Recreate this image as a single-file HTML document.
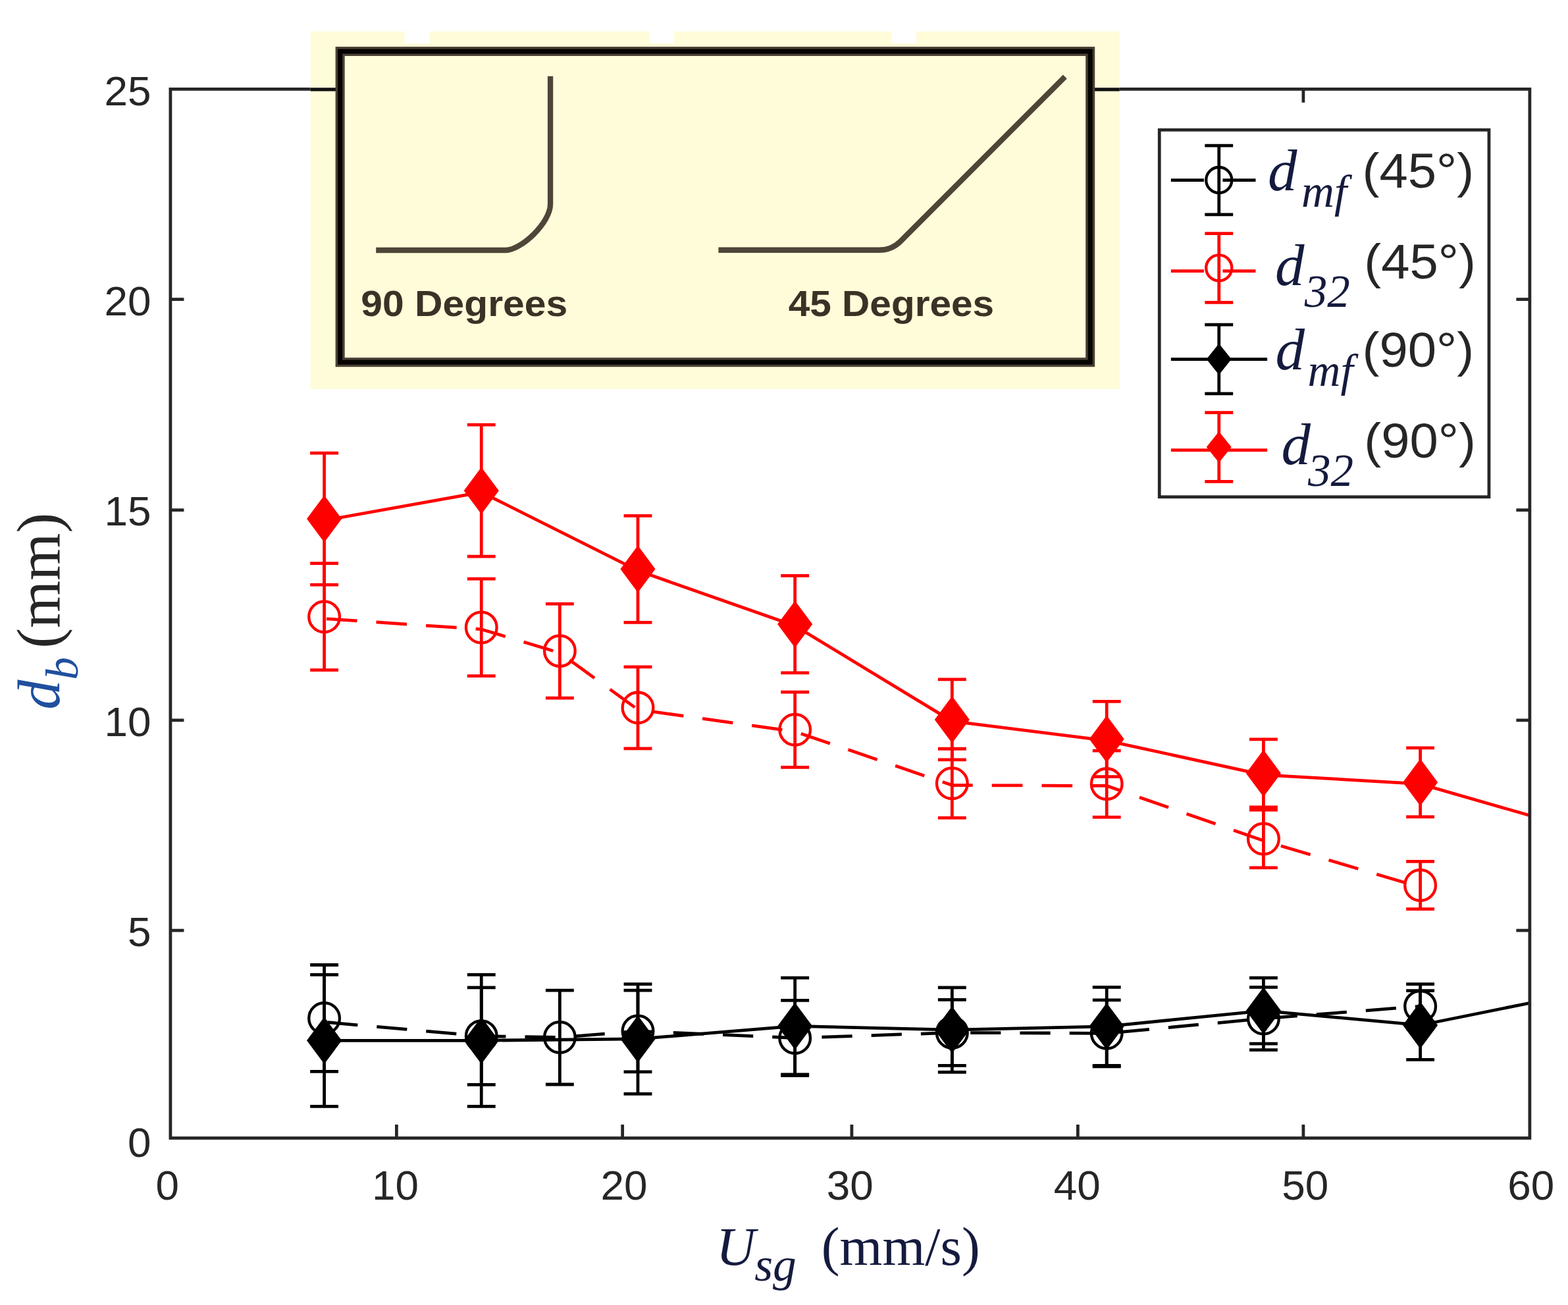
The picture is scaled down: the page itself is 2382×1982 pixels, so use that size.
<!DOCTYPE html>
<html><head><meta charset="utf-8"><title>Bubble diameter vs superficial gas velocity</title>
<style>html,body{margin:0;padding:0;background:#fff;overflow:hidden}svg{display:block}</style></head>
<body><svg width="2382" height="1982" viewBox="0 0 500 416">
<defs><clipPath id="clipax"><rect x="54.35" y="28.4" width="433.45" height="334.40000000000003"/></clipPath></defs>
<rect width="500" height="416" fill="#fff"/>
<rect x="54.35" y="28.4" width="433.45" height="334.40000000000003" fill="#fff" stroke="none"/><g clip-path="url(#clipax)"><path d="M103.4 325.8 L153.5 330.3 L178.5 330.7 L203.4 328.7 L253.5 330.9 L303.6 329.2 L352.9 329.4 L402.9 324.7 L452.9 320.8" stroke="#000000" stroke-width="1" fill="none" stroke-dasharray="9.7 6.1" stroke-dashoffset="-1.0"/><path d="M103.4 307.6V341.6M98.9 307.6H107.9M98.9 341.6H107.9" stroke="#000000" stroke-width="1" fill="none"/><path d="M153.5 314.8V345.8M149.0 314.8H158.0M149.0 345.8H158.0" stroke="#000000" stroke-width="1" fill="none"/><path d="M178.5 315.7V345.7M174.0 315.7H183.0M174.0 345.7H183.0" stroke="#000000" stroke-width="1" fill="none"/><path d="M203.4 315.7V341.7M198.9 315.7H207.9M198.9 341.7H207.9" stroke="#000000" stroke-width="1" fill="none"/><path d="M253.5 318.9V342.9M249.0 318.9H258.0M249.0 342.9H258.0" stroke="#000000" stroke-width="1" fill="none"/><path d="M303.6 318.7V339.7M299.1 318.7H308.1M299.1 339.7H308.1" stroke="#000000" stroke-width="1" fill="none"/><path d="M352.9 318.79999999999995V340.0M348.4 318.79999999999995H357.4M348.4 340.0H357.4" stroke="#000000" stroke-width="1" fill="none"/><path d="M402.9 314.7V334.7M398.4 314.7H407.4M398.4 334.7H407.4" stroke="#000000" stroke-width="1" fill="none"/><path d="M452.9 313.7V327.90000000000003M448.4 313.7H457.4M448.4 327.90000000000003H457.4" stroke="#000000" stroke-width="1" fill="none"/><circle cx="103.4" cy="324.6" r="4.9" fill="none" stroke="#000000" stroke-width="0.9"/><circle cx="153.5" cy="330.3" r="4.9" fill="none" stroke="#000000" stroke-width="0.9"/><circle cx="178.5" cy="330.7" r="4.9" fill="none" stroke="#000000" stroke-width="0.9"/><circle cx="203.4" cy="328.7" r="4.9" fill="none" stroke="#000000" stroke-width="0.9"/><circle cx="253.5" cy="330.9" r="4.9" fill="none" stroke="#000000" stroke-width="0.9"/><circle cx="303.6" cy="329.2" r="4.9" fill="none" stroke="#000000" stroke-width="0.9"/><circle cx="352.9" cy="329.4" r="4.9" fill="none" stroke="#000000" stroke-width="0.9"/><circle cx="402.9" cy="324.7" r="4.9" fill="none" stroke="#000000" stroke-width="0.9"/><circle cx="452.9" cy="320.8" r="4.9" fill="none" stroke="#000000" stroke-width="0.9"/><path d="M103.4 197.2 L153.5 200.6 L178.5 208.1 L203.4 226.2 L253.5 233.2 L303.6 250.29999999999998 L352.9 250.5 L402.9 268.0 L452.9 282.8" stroke="#ff0000" stroke-width="1" fill="none" stroke-dasharray="9.8 6.1" stroke-dashoffset="-0.7"/><path d="M103.4 179.6V213.6M98.9 179.6H107.9M98.9 213.6H107.9" stroke="#ff0000" stroke-width="1" fill="none"/><path d="M153.5 184.5V215.5M149.0 184.5H158.0M149.0 215.5H158.0" stroke="#ff0000" stroke-width="1" fill="none"/><path d="M178.5 192.5V222.5M174.0 192.5H183.0M174.0 222.5H183.0" stroke="#ff0000" stroke-width="1" fill="none"/><path d="M203.4 212.6V238.6M198.9 212.6H207.9M198.9 238.6H207.9" stroke="#ff0000" stroke-width="1" fill="none"/><path d="M253.5 220.6V244.6M249.0 220.6H258.0M249.0 244.6H258.0" stroke="#ff0000" stroke-width="1" fill="none"/><path d="M303.6 238.7V260.7M299.1 238.7H308.1M299.1 260.7H308.1" stroke="#ff0000" stroke-width="1" fill="none"/><path d="M352.9 239.3V260.5M348.4 239.3H357.4M348.4 260.5H357.4" stroke="#ff0000" stroke-width="1" fill="none"/><path d="M402.9 258.2V276.59999999999997M398.4 258.2H407.4M398.4 276.59999999999997H407.4" stroke="#ff0000" stroke-width="1" fill="none"/><path d="M452.9 274.59999999999997V289.8M448.4 274.59999999999997H457.4M448.4 289.8H457.4" stroke="#ff0000" stroke-width="1" fill="none"/><circle cx="103.4" cy="196.6" r="4.9" fill="none" stroke="#ff0000" stroke-width="0.9"/><circle cx="153.5" cy="200.0" r="4.9" fill="none" stroke="#ff0000" stroke-width="0.9"/><circle cx="178.5" cy="207.5" r="4.9" fill="none" stroke="#ff0000" stroke-width="0.9"/><circle cx="203.4" cy="225.6" r="4.9" fill="none" stroke="#ff0000" stroke-width="0.9"/><circle cx="253.5" cy="232.6" r="4.9" fill="none" stroke="#ff0000" stroke-width="0.9"/><circle cx="303.6" cy="249.7" r="4.9" fill="none" stroke="#ff0000" stroke-width="0.9"/><circle cx="352.9" cy="249.9" r="4.9" fill="none" stroke="#ff0000" stroke-width="0.9"/><circle cx="402.9" cy="267.4" r="4.9" fill="none" stroke="#ff0000" stroke-width="0.9"/><circle cx="452.9" cy="282.2" r="4.9" fill="none" stroke="#ff0000" stroke-width="0.9"/><path d="M103.4 331.7 L153.5 331.7 L203.4 331.2 L253.5 327.1 L303.6 328.3 L352.9 327.2 L402.9 322.2 L452.9 326.8 L490 319.3" stroke="#000000" stroke-width="1" fill="none"/><path d="M103.4 310.7V352.7M98.9 310.7H107.9M98.9 352.7H107.9" stroke="#000000" stroke-width="1" fill="none"/><path d="M153.5 310.7V352.7M149.0 310.7H158.0M149.0 352.7H158.0" stroke="#000000" stroke-width="1" fill="none"/><path d="M203.4 313.7V348.7M198.9 313.7H207.9M198.9 348.7H207.9" stroke="#000000" stroke-width="1" fill="none"/><path d="M253.5 311.70000000000005V342.5M249.0 311.70000000000005H258.0M249.0 342.5H258.0" stroke="#000000" stroke-width="1" fill="none"/><path d="M303.6 314.8V341.8M299.1 314.8H308.1M299.1 341.8H308.1" stroke="#000000" stroke-width="1" fill="none"/><path d="M352.9 314.7V339.7M348.4 314.7H357.4M348.4 339.7H357.4" stroke="#000000" stroke-width="1" fill="none"/><path d="M402.9 311.7V332.7M398.4 311.7H407.4M398.4 332.7H407.4" stroke="#000000" stroke-width="1" fill="none"/><path d="M452.9 315.8V337.8M448.4 315.8H457.4M448.4 337.8H457.4" stroke="#000000" stroke-width="1" fill="none"/><path d="M103.4 324.7L108.60000000000001 331.7L103.4 338.7L98.2 331.7Z" fill="#000000" stroke="#000000" stroke-width="0.6"/><path d="M153.5 324.7L158.7 331.7L153.5 338.7L148.3 331.7Z" fill="#000000" stroke="#000000" stroke-width="0.6"/><path d="M203.4 324.2L208.6 331.2L203.4 338.2L198.20000000000002 331.2Z" fill="#000000" stroke="#000000" stroke-width="0.6"/><path d="M253.5 320.1L258.7 327.1L253.5 334.1L248.3 327.1Z" fill="#000000" stroke="#000000" stroke-width="0.6"/><path d="M303.6 321.3L308.8 328.3L303.6 335.3L298.40000000000003 328.3Z" fill="#000000" stroke="#000000" stroke-width="0.6"/><path d="M352.9 320.2L358.09999999999997 327.2L352.9 334.2L347.7 327.2Z" fill="#000000" stroke="#000000" stroke-width="0.6"/><path d="M402.9 315.2L408.09999999999997 322.2L402.9 329.2L397.7 322.2Z" fill="#000000" stroke="#000000" stroke-width="0.6"/><path d="M452.9 319.8L458.09999999999997 326.8L452.9 333.8L447.7 326.8Z" fill="#000000" stroke="#000000" stroke-width="0.6"/><path d="M103.4 165.9 L153.5 156.9 L203.4 181.9 L253.5 199.5 L303.6 229.9 L352.9 236.1 L402.9 247.0 L452.9 249.9 L490 260.6" stroke="#ff0000" stroke-width="1" fill="none"/><path d="M103.4 144.4V186.4M98.9 144.4H107.9M98.9 186.4H107.9" stroke="#ff0000" stroke-width="1" fill="none"/><path d="M153.5 135.4V177.4M149.0 135.4H158.0M149.0 177.4H158.0" stroke="#ff0000" stroke-width="1" fill="none"/><path d="M203.4 164.4V198.4M198.9 164.4H207.9M198.9 198.4H207.9" stroke="#ff0000" stroke-width="1" fill="none"/><path d="M253.5 183.5V214.5M249.0 183.5H258.0M249.0 214.5H258.0" stroke="#ff0000" stroke-width="1" fill="none"/><path d="M303.6 216.6V242.20000000000002M299.1 216.6H308.1M299.1 242.20000000000002H308.1" stroke="#ff0000" stroke-width="1" fill="none"/><path d="M352.9 223.6V247.6M348.4 223.6H357.4M348.4 247.6H357.4" stroke="#ff0000" stroke-width="1" fill="none"/><path d="M402.9 235.7V257.3M398.4 235.7H407.4M398.4 257.3H407.4" stroke="#ff0000" stroke-width="1" fill="none"/><path d="M452.9 238.4V260.4M448.4 238.4H457.4M448.4 260.4H457.4" stroke="#ff0000" stroke-width="1" fill="none"/><path d="M103.4 158.4L108.60000000000001 165.4L103.4 172.4L98.2 165.4Z" fill="#ff0000" stroke="#ff0000" stroke-width="0.6"/><path d="M153.5 149.4L158.7 156.4L153.5 163.4L148.3 156.4Z" fill="#ff0000" stroke="#ff0000" stroke-width="0.6"/><path d="M203.4 174.4L208.6 181.4L203.4 188.4L198.20000000000002 181.4Z" fill="#ff0000" stroke="#ff0000" stroke-width="0.6"/><path d="M253.5 192.0L258.7 199.0L253.5 206.0L248.3 199.0Z" fill="#ff0000" stroke="#ff0000" stroke-width="0.6"/><path d="M303.6 222.4L308.8 229.4L303.6 236.4L298.40000000000003 229.4Z" fill="#ff0000" stroke="#ff0000" stroke-width="0.6"/><path d="M352.9 228.6L358.09999999999997 235.6L352.9 242.6L347.7 235.6Z" fill="#ff0000" stroke="#ff0000" stroke-width="0.6"/><path d="M402.9 239.5L408.09999999999997 246.5L402.9 253.5L397.7 246.5Z" fill="#ff0000" stroke="#ff0000" stroke-width="0.6"/><path d="M452.9 242.4L458.09999999999997 249.4L452.9 256.4L447.7 249.4Z" fill="#ff0000" stroke="#ff0000" stroke-width="0.6"/></g><rect x="54.35" y="28.4" width="433.45" height="334.40000000000003" fill="none" stroke="#262626" stroke-width="1"/><path d="M126.45 362.8V358.5M126.45 28.4V32.699999999999996M198.5 362.8V358.5M198.5 28.4V32.699999999999996M271.6 362.8V358.5M271.6 28.4V32.699999999999996M343.7 362.8V358.5M343.7 28.4V32.699999999999996M415.6 362.8V358.5M415.6 28.4V32.699999999999996M54.35 296.6H58.65M487.8 296.6H483.5M54.35 229.6H58.65M487.8 229.6H483.5M54.35 162.6H58.65M487.8 162.6H483.5M54.35 95.4H58.65M487.8 95.4H483.5" stroke="#262626" stroke-width="1" fill="none"/><g font-family="Liberation Sans, Arial, sans-serif" font-size="13.4" fill="#262626"><text x="53.35" y="382.5" text-anchor="middle">0</text><text x="126.07" y="382.5" text-anchor="middle">10</text><text x="198.97" y="382.5" text-anchor="middle">20</text><text x="271.03" y="382.5" text-anchor="middle">30</text><text x="343.47" y="382.5" text-anchor="middle">40</text><text x="416.2" y="382.5" text-anchor="middle">50</text><text x="488.2" y="382.5" text-anchor="middle">60</text><text x="48.2" y="368.7" text-anchor="end">0</text><text x="48.2" y="301.7" text-anchor="end">5</text><text x="48.2" y="234.7" text-anchor="end">10</text><text x="48.2" y="167.4" text-anchor="end">15</text><text x="48.2" y="100.45" text-anchor="end">20</text><text x="48.2" y="33.6" text-anchor="end">25</text></g><rect x="99" y="10" width="258" height="114" fill="#fffcd9"/><rect x="129" y="9.5" width="8" height="4.3" fill="#fff"/><rect x="207" y="9.5" width="8" height="4.3" fill="#fff"/><rect x="284.2" y="9.5" width="8" height="4.3" fill="#fff"/><path d="M99 28.5H108M347 28.5H357" stroke="#111" stroke-width="1.1"/><rect x="108.45" y="16.35" width="239.2" height="99.12" fill="none" stroke="#4a4034" stroke-width="2.95"/><rect x="108.45" y="16.35" width="239.2" height="99.12" fill="none" stroke="#050402" stroke-width="1.5"/><path d="M119.9 79.75H161.3C166 79.75 175.5 71.2 175.5 65V24.3" fill="none" stroke="#4e4538" stroke-width="1.75"/><path d="M229.1 79.7H280.4Q284.3 79.7 287.1 76.95L339.6 24.45" fill="none" stroke="#4e4538" stroke-width="1.75"/><g font-family="Liberation Sans, Arial, sans-serif" font-weight="bold" font-size="11.6" fill="#3a3226"><text x="115.1" y="100.8" textLength="65.9" lengthAdjust="spacingAndGlyphs">90 Degrees</text><text x="251.4" y="100.8" textLength="65.6" lengthAdjust="spacingAndGlyphs">45 Degrees</text></g><rect x="369.7" y="41.4" width="105.1" height="117" fill="#fff" stroke="#262626" stroke-width="1"/><path d="M373.4 57.4H404.1" stroke="#000000" stroke-width="1" stroke-dasharray="10.5 6"/><path d="M388.7 46.4V68.4M384.2 46.4H393.2M384.2 68.4H393.2" stroke="#000000" stroke-width="1" fill="none"/><circle cx="388.7" cy="57.4" r="4.1" fill="none" stroke="#000000" stroke-width="0.9"/><path d="M373.4 86.4H404.1" stroke="#ff0000" stroke-width="1" stroke-dasharray="10.5 6"/><path d="M388.7 74.4V96.4M384.2 74.4H393.2M384.2 96.4H393.2" stroke="#ff0000" stroke-width="1" fill="none"/><circle cx="388.7" cy="85.4" r="4.1" fill="none" stroke="#ff0000" stroke-width="0.9"/><path d="M373.4 114.5H404.1" stroke="#000000" stroke-width="1"/><path d="M388.7 103.5V125.5M384.2 103.5H393.2M384.2 125.5H393.2" stroke="#000000" stroke-width="1" fill="none"/><path d="M388.7 110.0L392.3 114.5L388.7 119.0L385.09999999999997 114.5Z" fill="#000000" stroke="#000000" stroke-width="0.6"/><path d="M373.4 143.5H404.1" stroke="#ff0000" stroke-width="1"/><path d="M388.7 131.5V153.5M384.2 131.5H393.2M384.2 153.5H393.2" stroke="#ff0000" stroke-width="1" fill="none"/><path d="M388.7 138.0L392.3 142.5L388.7 147.0L385.09999999999997 142.5Z" fill="#ff0000" stroke="#ff0000" stroke-width="0.6"/><text x="404.3" y="60.70" font-family="Liberation Serif, Times New Roman, serif" font-style="italic" font-size="18.7" fill="#151b3e">d</text><text x="415.0" y="65.90" font-family="Liberation Serif, Times New Roman, serif" font-style="italic" font-size="14.5" fill="#151b3e">mf</text><text x="434.4" y="59.80" font-family="Liberation Sans, Arial, sans-serif" font-size="15.5" fill="#262626" textLength="35.6" lengthAdjust="spacingAndGlyphs">(45°)</text><text x="406.6" y="90.80" font-family="Liberation Serif, Times New Roman, serif" font-style="italic" font-size="18.7" fill="#151b3e">d</text><text x="416.0" y="97.70" font-family="Liberation Serif, Times New Roman, serif" font-style="italic" font-size="14.5" fill="#151b3e">32</text><text x="435.0" y="88.80" font-family="Liberation Sans, Arial, sans-serif" font-size="15.5" fill="#262626" textLength="35.6" lengthAdjust="spacingAndGlyphs">(45°)</text><text x="406.7" y="117.80" font-family="Liberation Serif, Times New Roman, serif" font-style="italic" font-size="18.7" fill="#151b3e">d</text><text x="417.0" y="123.00" font-family="Liberation Serif, Times New Roman, serif" font-style="italic" font-size="14.5" fill="#151b3e">mf</text><text x="434.4" y="116.90" font-family="Liberation Sans, Arial, sans-serif" font-size="15.5" fill="#262626" textLength="35.6" lengthAdjust="spacingAndGlyphs">(90°)</text><text x="408.6" y="147.90" font-family="Liberation Serif, Times New Roman, serif" font-style="italic" font-size="18.7" fill="#151b3e">d</text><text x="417.1" y="154.80" font-family="Liberation Serif, Times New Roman, serif" font-style="italic" font-size="14.5" fill="#151b3e">32</text><text x="435.0" y="145.90" font-family="Liberation Sans, Arial, sans-serif" font-size="15.5" fill="#262626" textLength="35.6" lengthAdjust="spacingAndGlyphs">(90°)</text><g font-family="Liberation Serif, Times New Roman, serif" fill="#151b3e"><text x="228.4" y="403.3" font-size="17.3" font-style="italic">U</text><text x="240.6" y="408.2" font-size="15" font-style="italic">sg</text><text x="261.9" y="403.3" font-size="17.5" textLength="50.6" lengthAdjust="spacingAndGlyphs">(mm/s)</text></g><g transform="translate(18.8 226.2) rotate(-90)"><text x="0" y="0" font-family="Liberation Serif, Times New Roman, serif" font-size="19" fill="#1f4f9e" font-style="italic">d<tspan font-size="14.5" dy="6">b</tspan></text><text x="19.5" y="0" font-family="Liberation Serif, Times New Roman, serif" font-size="19.5" fill="#262626">(mm)</text></g>
</svg></body></html>
